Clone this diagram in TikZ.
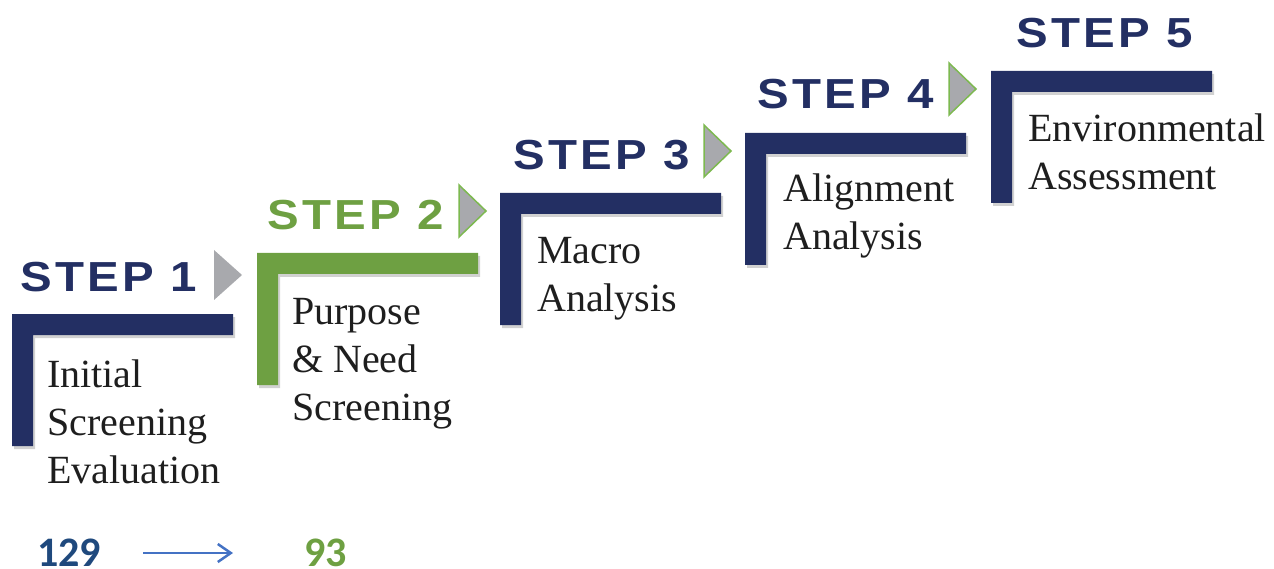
\documentclass[tikz,border=0pt]{standalone}
\usepackage{fontspec}
\setmainfont{Liberation Serif}
\newfontfamily\stepfont[FakeStretch=1.13,LetterSpace=8]{Liberation Sans}
\newfontfamily\numfont{Carlito}
\usetikzlibrary{arrows.meta}
\definecolor{navy}{RGB}{35,47,99}
\definecolor{sgreen}{RGB}{110,160,66}
\definecolor{tgreen}{RGB}{125,185,80}
\definecolor{numblue}{RGB}{31,73,125}
\definecolor{arrowblue}{RGB}{68,114,196}
\definecolor{bodytext}{RGB}{30,30,30}
\definecolor{trigray}{RGB}{168,169,173}
\tikzset{
  steplabel/.style={anchor=base west, inner sep=0pt, font=\stepfont\bfseries\fontsize{42}{42}\selectfont},
  bodylabel/.style={anchor=base west, inner sep=0pt, align=left, text=bodytext, font=\fontsize{40}{48}\selectfont},
  numlabel/.style={anchor=base west, inner sep=0pt, font=\numfont\bfseries\fontsize{42}{42}\selectfont},
  tri/.style={fill=trigray},
  trigreen/.style={fill=trigray, draw=tgreen, line width=1.5pt, line join=miter},
  bracketshadow/.style={fill=black, opacity=0.18},
  numarrow/.style={draw=arrowblue, line width=2.5pt, -{Straight Barb[length=13pt,width=18pt,line width=2.5pt]}}
}
\newcommand\stepbracket[3]{%
  \fill[bracketshadow] (#1+2,#2+3) -- ++(221,0) -- ++(0,21) -- ++(-200,0) -- ++(0,111) -- ++(-21,0) -- cycle;
  \fill[#3] (#1,#2) -- ++(221,0) -- ++(0,21) -- ++(-200,0) -- ++(0,111) -- ++(-21,0) -- cycle;}
\begin{document}
\begin{tikzpicture}[x=1pt,y=-1pt]
\useasboundingbox (0,0) rectangle (1274,569);
% brackets
\stepbracket{12}{314}{navy}
\stepbracket{257}{253}{sgreen}
\stepbracket{500}{193}{navy}
\stepbracket{745}{133}{navy}
\stepbracket{991}{71}{navy}
% triangles
\fill[tri] (214,250) -- (242,275) -- (214,300) -- cycle;
\filldraw[trigreen] (459,185) -- (486,211) -- (459,237) -- cycle;
\filldraw[trigreen] (704,125) -- (731,151) -- (704,177) -- cycle;
\filldraw[trigreen] (949,63) -- (976,89) -- (949,115) -- cycle;
% step labels
\node[steplabel, text=navy] (s1) at (20,291) {STEP 1};
\node[steplabel, text=sgreen] (s2) at (267,230) {STEP 2};
\node[steplabel, text=navy] (s3) at (513,170) {STEP 3};
\node[steplabel, text=navy] (s4) at (757,109) {STEP 4};
\node[steplabel, text=navy] (s5) at (1016,48) {STEP 5};
% body text (base anchor = last line)
\node[bodylabel] (b1) at (47,483) {Initial\\Screening\\Evaluation};
\node[bodylabel] (b2) at (292,420) {Purpose\\\& Need\\Screening};
\node[bodylabel] (b3) at (537,312) {Macro\\Analysis};
\node[bodylabel] (b4) at (783,250) {Alignment\\Analysis};
\node[bodylabel] (b5) at (1028,190) {Environmental\\Assessment};
% numbers
\node[numlabel, text=numblue] (n1) at (37,566) {129};
\node[numlabel, text=sgreen] (n2) at (304,566) {93};
\coordinate (a1) at (143,553);
\coordinate (a2) at (233,553);
\draw[numarrow] (a1) -- (a2);
\end{tikzpicture}
\end{document}
